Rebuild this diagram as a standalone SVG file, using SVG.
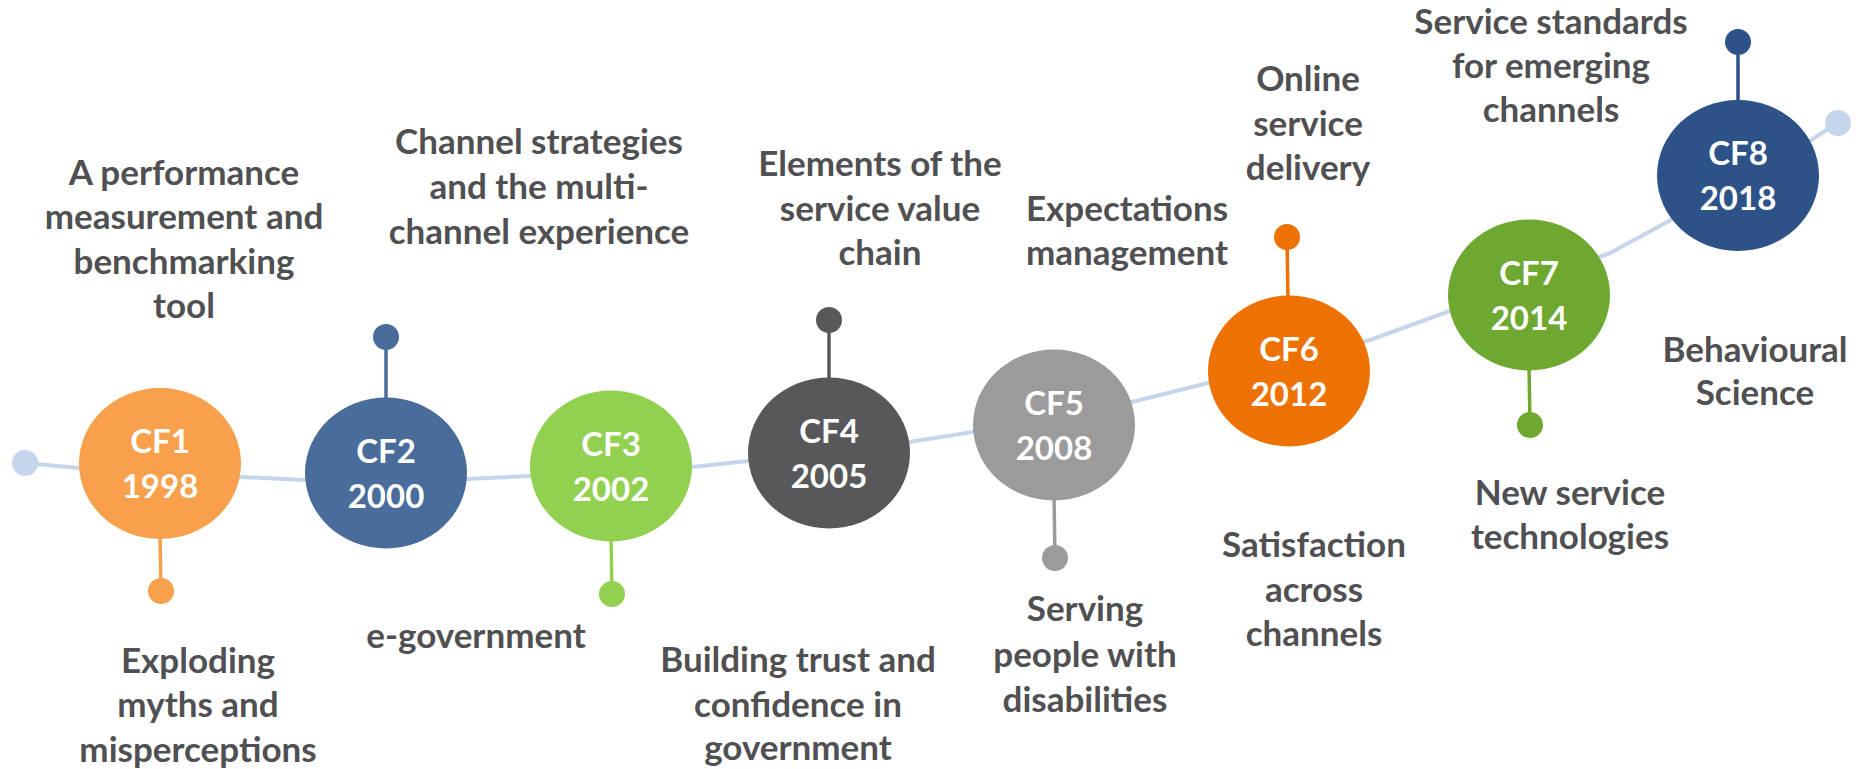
<svg xmlns="http://www.w3.org/2000/svg" width="1859" height="769" viewBox="0 0 1859 769">
  <style>
    .lbl { font-family: Lato, "Open Sans", sans-serif; font-weight: 700; font-size: 35px; fill: #505052; text-anchor: middle; }
    .num { font-family: Lato, "Open Sans", sans-serif; font-weight: 700; font-size: 33px; fill: #ffffff; text-anchor: middle; }
    .track { fill: none; stroke: #C5D5EC; stroke-width: 4; stroke-linejoin: round; stroke-linecap: round; }
    .stem { stroke-width: 3.5; }
  </style>
  <rect width="1859" height="769" fill="#ffffff"/>

  <!-- timeline track -->
  <g id="connectors">
    <polyline class="track" points="25,463 79,468 160,472 241,477 304,480 386,480 467,479 530,476 611,472 692,467 748,461 829,452 909,442 973,432 1054,418 1136,401 1208,383 1289,362 1370,340 1447,312 1529,283 1610,253 1671,220 1738,180 1811,140 1838,123"/>
    <circle cx="25" cy="463" r="13" fill="#C5D5EC"/>
    <circle cx="1838" cy="123" r="13" fill="#C5D5EC"/>
  </g>

  <!-- CF1 -->
  <g id="cf1">
    <line class="stem" x1="160" y1="535" x2="161" y2="591" stroke="#F8A04C"/>
    <circle cx="161" cy="591" r="13" fill="#F8A04C"/>
    <ellipse cx="160" cy="463.5" rx="81" ry="75.5" fill="#F8A04C"/>
    <text class="num" x="160" y="453">CF1</text>
    <text class="num" x="160" y="498">1998</text>
  </g>

  <!-- CF2 -->
  <g id="cf2">
    <line class="stem" x1="386" y1="337" x2="386" y2="400" stroke="#4A6C9B"/>
    <circle cx="386" cy="337" r="13" fill="#4A6C9B"/>
    <ellipse cx="386" cy="473" rx="81" ry="75.5" fill="#4A6C9B"/>
    <text class="num" x="386" y="462.5">CF2</text>
    <text class="num" x="386" y="507.5">2000</text>
  </g>

  <!-- CF3 -->
  <g id="cf3">
    <line class="stem" x1="611" y1="535" x2="612" y2="594" stroke="#92D050"/>
    <circle cx="612" cy="594" r="13" fill="#92D050"/>
    <ellipse cx="611" cy="466" rx="81" ry="75.5" fill="#92D050"/>
    <text class="num" x="611" y="455.5">CF3</text>
    <text class="num" x="611" y="500.5">2002</text>
  </g>

  <!-- CF4 -->
  <g id="cf4">
    <line class="stem" x1="829" y1="320" x2="829" y2="385" stroke="#58585A"/>
    <circle cx="829" cy="320" r="13" fill="#58585A"/>
    <ellipse cx="829" cy="453" rx="81" ry="75.5" fill="#58585A"/>
    <text class="num" x="829" y="442.5">CF4</text>
    <text class="num" x="829" y="487.5">2005</text>
  </g>

  <!-- CF5 -->
  <g id="cf5">
    <line class="stem" x1="1054" y1="495" x2="1055" y2="558" stroke="#9B9B9B"/>
    <circle cx="1055" cy="558" r="13" fill="#9B9B9B"/>
    <ellipse cx="1054" cy="425" rx="81" ry="75.5" fill="#9B9B9B"/>
    <text class="num" x="1054" y="414.5">CF5</text>
    <text class="num" x="1054" y="459.5">2008</text>
  </g>

  <!-- CF6 -->
  <g id="cf6">
    <line class="stem" x1="1287" y1="237" x2="1288" y2="302" stroke="#EE7203"/>
    <circle cx="1287" cy="237" r="13" fill="#EE7203"/>
    <ellipse cx="1289" cy="371" rx="81" ry="75.5" fill="#EE7203"/>
    <text class="num" x="1289" y="360.5">CF6</text>
    <text class="num" x="1289" y="405.5">2012</text>
  </g>

  <!-- CF7 -->
  <g id="cf7">
    <line class="stem" x1="1529" y1="365" x2="1530" y2="425" stroke="#6EA830"/>
    <circle cx="1530" cy="425" r="13" fill="#6EA830"/>
    <ellipse cx="1529" cy="295" rx="81" ry="75.5" fill="#6EA830"/>
    <text class="num" x="1529" y="284.5">CF7</text>
    <text class="num" x="1529" y="329.5">2014</text>
  </g>

  <!-- CF8 -->
  <g id="cf8">
    <line class="stem" x1="1738" y1="42" x2="1738" y2="106" stroke="#2C5287"/>
    <circle cx="1738" cy="42" r="13" fill="#2C5287"/>
    <ellipse cx="1738" cy="175.5" rx="81" ry="75.5" fill="#2C5287"/>
    <text class="num" x="1738" y="165">CF8</text>
    <text class="num" x="1738" y="210">2018</text>
  </g>

  <!-- topic labels -->
  <g id="labels">
    <text class="lbl" x="184" y="185">A performance</text>
    <text class="lbl" x="184" y="229">measurement and</text>
    <text class="lbl" x="184" y="274">benchmarking</text>
    <text class="lbl" x="184" y="318">tool</text>

    <text class="lbl" x="198" y="673">Exploding</text>
    <text class="lbl" x="198" y="717">myths and</text>
    <text class="lbl" x="198" y="762">misperceptions</text>

    <text class="lbl" x="476" y="648">e-government</text>

    <text class="lbl" x="539" y="154">Channel strategies</text>
    <text class="lbl" x="539" y="199">and the multi-</text>
    <text class="lbl" x="539" y="244">channel experience</text>

    <text class="lbl" x="798" y="672">Building trust and</text>
    <text class="lbl" x="798" y="717">confidence in</text>
    <text class="lbl" x="798" y="760">government</text>

    <text class="lbl" x="880" y="176">Elements of the</text>
    <text class="lbl" x="880" y="221">service value</text>
    <text class="lbl" x="880" y="265">chain</text>

    <text class="lbl" x="1085" y="621">Serving</text>
    <text class="lbl" x="1085" y="667">people with</text>
    <text class="lbl" x="1085" y="712">disabilities</text>

    <text class="lbl" x="1127" y="221">Expectations</text>
    <text class="lbl" x="1127" y="265">management</text>

    <text class="lbl" x="1308" y="91">Online</text>
    <text class="lbl" x="1308" y="136">service</text>
    <text class="lbl" x="1308" y="180">delivery</text>

    <text class="lbl" x="1314" y="557">Satisfaction</text>
    <text class="lbl" x="1314" y="602">across</text>
    <text class="lbl" x="1314" y="646">channels</text>

    <text class="lbl" x="1551" y="34">Service standards</text>
    <text class="lbl" x="1551" y="78">for emerging</text>
    <text class="lbl" x="1551" y="122">channels</text>

    <text class="lbl" x="1570" y="505">New service</text>
    <text class="lbl" x="1570" y="549">technologies</text>

    <text class="lbl" x="1755" y="362">Behavioural</text>
    <text class="lbl" x="1755" y="405">Science</text>
  </g>
</svg>
